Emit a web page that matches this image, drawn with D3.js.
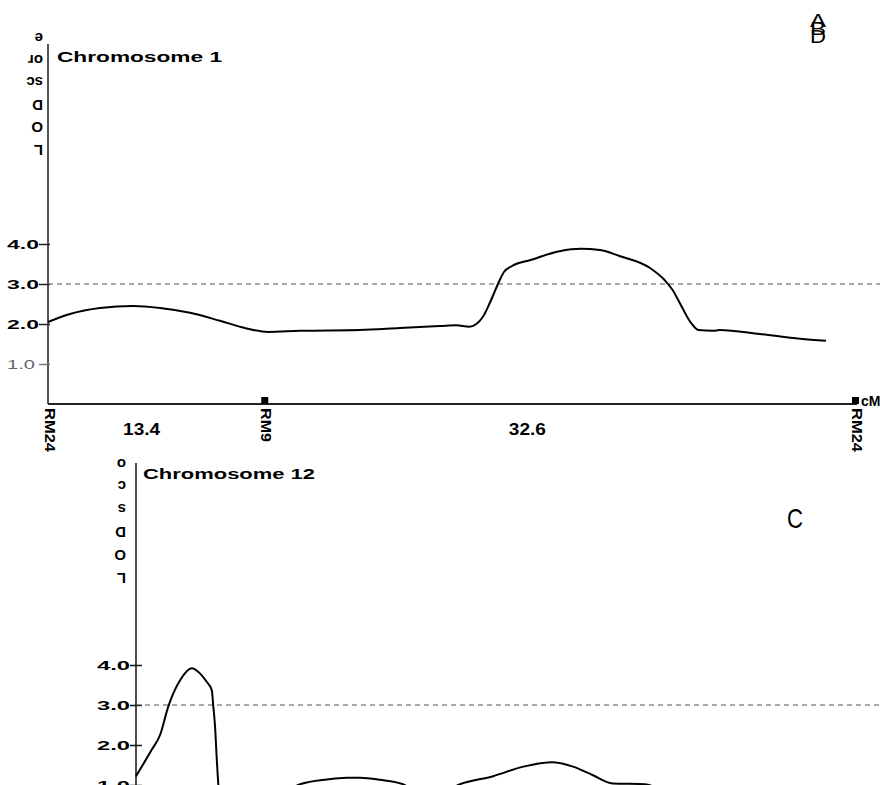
<!DOCTYPE html>
<meta charset="utf-8">
<style>
  body { margin: 0; background: #fff; }
  svg { display: block; }
  text { font-family: "Liberation Sans", Arial, sans-serif; fill: #000; }
  .bold { font-weight: bold; }
  .curve { fill: none; stroke: #000; stroke-width: 2; stroke-linejoin: round; }
  .thresh { stroke: #555; stroke-width: 1.2; stroke-dasharray: 5,4; }
</style>
<body>
<script src="https://d3js.org/d3.v7.min.js"></script>
<script>

// chromosome 1 LOD scan: position (cM) and LOD score
const chr1Pos = [0, 1.36, 3.22, 5.27, 6.94, 8.8, 10.66, 12.2, 13.63, 15.6, 19.3, 21.8, 24.3, 25.3, 26.1,
                 26.95, 27.4, 27.9, 28.25, 28.75, 29.9, 31.7, 33.0, 34.2, 35.4, 37.3, 38.2, 38.7, 39.2,
                 39.8, 40.3, 41.2, 41.6, 44.1, 46.6, 48.2];
const chr1Lod = [2.05, 2.25, 2.4, 2.45, 2.4, 2.28, 2.08, 1.9, 1.8, 1.83, 1.85, 1.9, 1.95, 1.97, 1.93,
                 2.18, 2.55, 3.02, 3.3, 3.45, 3.6, 3.82, 3.88, 3.85, 3.7, 3.4, 3.1, 2.85, 2.48,
                 2.05, 1.85, 1.83, 1.85, 1.75, 1.63, 1.58];

// chromosome 12 LOD scan (lower part runs off the bottom of the page)
const chr12Pos = [0, 1.09, 1.67, 2.24, 2.59, 3.06, 3.87, 4.44, 4.91, 5.26, 5.37, 5.49, 5.6, 5.72, 5.9,
                  7.2, 9.3, 11.4, 13.26, 14.65, 15.56, 16.94, 18.54, 19.7, 21.1, 22.5, 24.8, 26.9,
                  28.9, 30.35, 31.7, 33.1, 35.35, 36.4, 39.2];
const chr12Lod = [1.22, 1.88, 2.25, 2.96, 3.29, 3.62, 3.92, 3.79, 3.58, 3.375, 2.96, 2.46, 1.71, 1.0, 0.4,
                  0.3, 0.6, 1.02, 1.14, 1.18, 1.18, 1.13, 1.02, 0.8, 0.8, 1.02, 1.22, 1.46,
                  1.57, 1.46, 1.25, 1.04, 1.02, 0.9, 0.7];

const chr1Markers = ["RM24", "RM9", "RM24"];
const chr1MarkerPos = [0, 13.4, 50];
const chr1Intervals = ["13.4", "32.6"];
const chr1IntervalPos = [5.8, 29.7];

const lodTicks = [1, 2, 3, 4];
const threshold = 3.0;
const yLetters1 = ["L", "O", "D", "sc", "or", "e"];
const yLetters2 = ["L", "O", "D", "s", "c", "o"];
const titles = ["Chromosome 1", "Chromosome 12"];

const width = 880, height = 785;

const svg = d3.select("body").append("svg")
    .attr("width", width)
    .attr("height", height);

const line = (x, y) => d3.line()
    .x(d => x(d[0]))
    .y(d => y(d[1]))
    .curve(d3.curveMonotoneX);

// ---------- panel A : chromosome 1 ----------
const x1 = d3.scaleLinear().domain([0, 50]).range([48, 855]);
const y1 = d3.scaleLinear().domain([0, 4]).range([404, 244]);

const p1 = svg.append("g").attr("class", "panel1");

p1.append("line")
  .attr("x1", x1(0)).attr("x2", x1(0))
  .attr("y1", 44).attr("y2", y1(0))
  .attr("stroke", "#555").attr("stroke-width", 2);

p1.append("line")
  .attr("x1", x1(0)).attr("x2", 857)
  .attr("y1", y1(0)).attr("y2", y1(0))
  .attr("stroke", "#222").attr("stroke-width", 2);

const ax1 = p1.append("g")
  .attr("transform", `translate(${x1(0)},0)`)
  .call(d3.axisLeft(y1).tickValues(lodTicks).tickFormat(d3.format(".1f")).tickSize(9));
ax1.select(".domain").remove();
ax1.selectAll(".tick line")
  .attr("x1", 2)
  .attr("stroke", d => d === 1 ? "#777" : "#222")
  .attr("stroke-width", 1.5);
ax1.selectAll(".tick text")
  .attr("x", d => d === 1 ? -13 : -9)
  .attr("font-size", 13)
  .attr("font-family", null)
  .attr("class", d => d === 1 ? null : "bold")
  .style("fill", d => d === 1 ? "#666" : "#000")
  .attr("textLength", d => d === 1 ? 28 : 32)
  .attr("lengthAdjust", "spacingAndGlyphs");

p1.append("line")
  .attr("class", "thresh")
  .attr("x1", x1(0)).attr("x2", width)
  .attr("y1", y1(threshold)).attr("y2", y1(threshold));

p1.append("path")
  .datum(d3.zip(chr1Pos, chr1Lod))
  .attr("class", "curve")
  .attr("d", line(x1, y1));

p1.append("text")
  .attr("class", "bold")
  .attr("x", 57).attr("y", 62)
  .attr("font-size", 14)
  .attr("textLength", 165).attr("lengthAdjust", "spacingAndGlyphs")
  .text(titles[0]);

// upside-down stacked axis title
p1.selectAll(".ylab")
  .data(yLetters1)
  .join("text")
  .attr("class", "ylab bold")
  .attr("font-size", 15)
  .attr("dominant-baseline", "central")
  .attr("x", 43)
  .attr("y", (d, i) => 150 - i * 22.4)
  .attr("transform", (d, i) => `rotate(180,43,${150 - i * 22.4})`)
  .text(d => d);

// markers on the x axis
p1.selectAll(".mk")
  .data(chr1MarkerPos.filter(d => d > 0))
  .join("rect")
  .attr("x", d => x1(d) - 3)
  .attr("y", y1(0) - 7)
  .attr("width", 7).attr("height", 7)
  .attr("fill", "#000");

p1.selectAll(".mlab")
  .data(d3.zip(chr1Markers, chr1MarkerPos))
  .join("text")
  .attr("class", "mlab bold")
  .attr("font-size", 15)
  .attr("dy", "0.35em")
  .attr("transform", d => `translate(${x1(d[1]) + 2},${y1(0) + 4}) rotate(90)`)
  .attr("textLength", d => d[0] === "RM9" ? 34 : 44)
  .attr("lengthAdjust", "spacingAndGlyphs")
  .text(d => d[0]);

p1.selectAll(".ilab")
  .data(d3.zip(chr1Intervals, chr1IntervalPos))
  .join("text")
  .attr("class", "ilab bold")
  .attr("font-size", 16)
  .attr("text-anchor", "middle")
  .attr("dy", "0.35em")
  .attr("x", d => x1(d[1]))
  .attr("y", 429)
  .attr("textLength", 37)
  .attr("lengthAdjust", "spacingAndGlyphs")
  .text(d => d[0]);

p1.append("text")
  .attr("class", "bold")
  .attr("x", 861).attr("y", 406)
  .attr("font-size", 14)
  .text("cM");

// overlapping panel letters
[["A", 27], ["B", 35], ["D", 43]].forEach(([t, yy]) => {
  svg.append("text")
    .attr("x", 818).attr("y", yy)
    .attr("text-anchor", "middle")
    .attr("font-size", 19)
    .attr("textLength", 16).attr("lengthAdjust", "spacingAndGlyphs")
    .text(t);
});

// ---------- panel C : chromosome 12 ----------
const x2 = d3.scaleLinear().domain([0, 50]).range([136, 856]);
const y2 = d3.scaleLinear().domain([0, 4]).range([825, 665]);

const p2 = svg.append("g").attr("class", "panel2");

p2.append("line")
  .attr("x1", x2(0)).attr("x2", x2(0))
  .attr("y1", 463).attr("y2", y2(0))
  .attr("stroke", "#111").attr("stroke-width", 1.5);

const ax2 = p2.append("g")
  .attr("transform", `translate(${x2(0)},0)`)
  .call(d3.axisLeft(y2).tickValues(lodTicks).tickFormat(d3.format(".1f")).tickSize(6));
ax2.select(".domain").remove();
ax2.selectAll(".tick line")
  .attr("x1", 6)
  .attr("stroke", "#111")
  .attr("stroke-width", 1.5);
ax2.selectAll(".tick text")
  .attr("x", -6)
  .attr("font-size", 13)
  .attr("font-family", null)
  .attr("class", "bold")
  .attr("textLength", 33)
  .attr("lengthAdjust", "spacingAndGlyphs");

p2.append("line")
  .attr("class", "thresh")
  .attr("x1", x2(0)).attr("x2", width)
  .attr("y1", y2(threshold)).attr("y2", y2(threshold));

p2.append("path")
  .datum(d3.zip(chr12Pos, chr12Lod))
  .attr("class", "curve")
  .attr("d", line(x2, y2));

p2.append("text")
  .attr("class", "bold")
  .attr("x", 143).attr("y", 479)
  .attr("font-size", 14)
  .attr("textLength", 172).attr("lengthAdjust", "spacingAndGlyphs")
  .text(titles[1]);

p2.selectAll(".ylab")
  .data(yLetters2)
  .join("text")
  .attr("class", "ylab bold")
  .attr("font-size", 15)
  .attr("dominant-baseline", "central")
  .attr("x", 126)
  .attr("y", (d, i) => 578 - i * 22.8)
  .attr("transform", (d, i) => `rotate(180,126,${578 - i * 22.8})`)
  .text(d => d);

svg.append("text")
  .attr("x", 795).attr("y", 528)
  .attr("text-anchor", "middle")
  .attr("font-size", 28)
  .attr("textLength", 16).attr("lengthAdjust", "spacingAndGlyphs")
  .text("C");

</script>
</body>
</html>
